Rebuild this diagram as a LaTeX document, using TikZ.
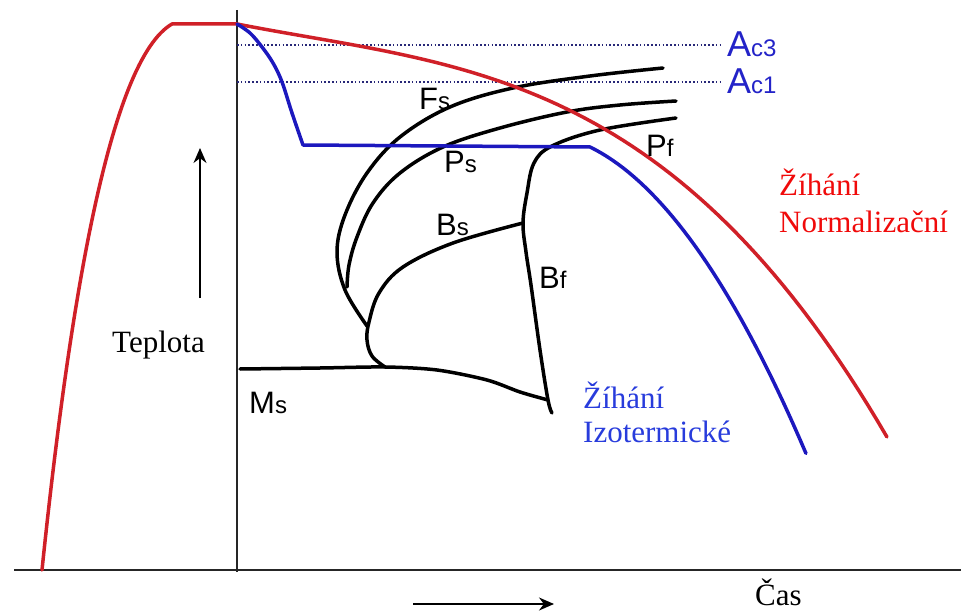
\documentclass[tikz,border=0pt]{standalone}
\usepackage{fontspec}
\setmainfont{Liberation Serif}
\newfontfamily\lblfont{Liberation Sans}
\usetikzlibrary{arrows.meta}
\definecolor{redc}{RGB}{208,32,40}
\definecolor{bluec}{RGB}{28,24,190}
\definecolor{dotc}{RGB}{40,40,120}
\definecolor{acblue}{RGB}{35,35,200}
\definecolor{bluet}{RGB}{40,60,220}
\definecolor{redt}{RGB}{240,10,10}
\tikzset{
  curve/.style={line width=3.5pt, line join=round, line cap=round},
  axis/.style={line width=1.5pt, black!85},
  acline/.style={dotc, line width=2pt, dash pattern=on 1.6pt off 2.2pt},
  sym/.style={inner sep=0pt, anchor=base west, font=\lblfont\fontsize{31}{36}\selectfont},
  acsym/.style={inner sep=0pt, anchor=base west, text=acblue, font=\lblfont\fontsize{36}{40}\selectfont},
  serif/.style={inner sep=0pt, anchor=base west, font=\fontsize{31}{37}\selectfont},
  bigarrow/.style={line width=1.8pt, -{Stealth[length=15pt,width=13pt]}}
}
\newcommand{\sbs}[1]{{\fontsize{24}{26}\selectfont #1}}
\begin{document}
\begin{tikzpicture}[x=1pt,y=-1pt]
\useasboundingbox (0,0) rectangle (961,615);
% axes
\coordinate (xl) at (14,570);
\coordinate (xr) at (961,570);
\coordinate (yt) at (237,10);
\coordinate (yb) at (237,572);
\draw[axis] (xl) -- (xr);
\draw[axis] (yt) -- (yb);
% dotted Ac lines
\coordinate (ac3a) at (237,45);
\coordinate (ac3b) at (722,45);
\coordinate (ac1a) at (237,82);
\coordinate (ac1b) at (720,82);
\draw[acline] (ac3a) -- (ac3b);
\draw[acline] (ac1a) -- (ac1b);
% TTT curves
\draw[curve] plot[smooth, tension=0.6] coordinates {(663,68) (590,76) (513,88) (450,107) (400,137) (367,173) (345,215) (337,252) (345,290) (367,326)};
\draw[curve] plot[smooth, tension=0.6] coordinates {(676,101) (620,105) (567,112) (500,128) (443,147) (400,173) (373,203) (357,237) (349,265) (347,287)};
\draw[curve] plot[smooth, tension=0.6] coordinates {(676,118) (600,130) (552,146) (534,163) (527,193) (523,223) (526,252) (531,285) (540,350) (548,400) (552,413)};
\draw[curve] plot[smooth, tension=0.6] coordinates {(385,367) (372,356) (367,340) (369,322) (379,293) (403,267) (453,243) (523,223)};
\draw[curve] plot[smooth, tension=0.5] coordinates {(240,369) (320,368) (385,367) (437,370) (487,380) (520,392) (548,400)};
% red normalising curve
\coordinate (r0) at (42,570);
\coordinate (r1) at (172,24);
\coordinate (r2) at (237,24);
\draw[curve, redc] (r0) .. controls (70,300) and (110,60) .. (r1) -- (r2)
  -- plot[domain=0:6.5, samples=70] ({237+100*\x}, {24+19.59*\x-3.169*\x*\x+1.528*\x*\x*\x});
% blue isothermal curve
\coordinate (b0) at (303,145);
\coordinate (b1) at (590,147);
\draw[curve, bluec] plot[smooth, tension=0.6] coordinates {(237,24) (250,33) (262,47) (273,63) (282,82) (292,113) (303,145)} -- (b1)
  -- plot[domain=0:2.16, samples=40] ({590+100*\x}, {147+49*\x+43*\x*\x});
% arrows
\coordinate (ua) at (200,298);
\coordinate (ub) at (200,148);
\draw[bigarrow] (ua) -- (ub);
\coordinate (ra) at (413,604);
\coordinate (rb) at (554,604);
\draw[bigarrow] (ra) -- (rb);
% symbol labels
\node[acsym] (ac3) at (727,57) {A\sbs{c3}};
\node[acsym] (ac1) at (727,94) {A\sbs{c1}};
\node[sym] (fs) at (419,110) {F\sbs{s}};
\node[sym] (ps) at (444,172) {P\sbs{s}};
\node[sym] (pf) at (646,157) {P\sbs{f}};
\node[sym] (bs) at (436,235) {B\sbs{s}};
\node[sym] (bf) at (539,288) {B\sbs{f}};
\node[sym] (ms) at (249,413) {M\sbs{s}};
% texts
\node[serif] (tep) at (112,352) {Teplota};
\node[serif, text=redt] (zn1) at (779,195) {Žíhání};
\node[serif, text=redt] (zn2) at (779,232) {Normalizační};
\node[serif, text=bluet] (zi1) at (583,408) {Žíhání};
\node[serif, text=bluet] (zi2) at (583,442) {Izotermické};
\node[serif] (cas) at (755,605) {Čas};
\end{tikzpicture}
\end{document}
